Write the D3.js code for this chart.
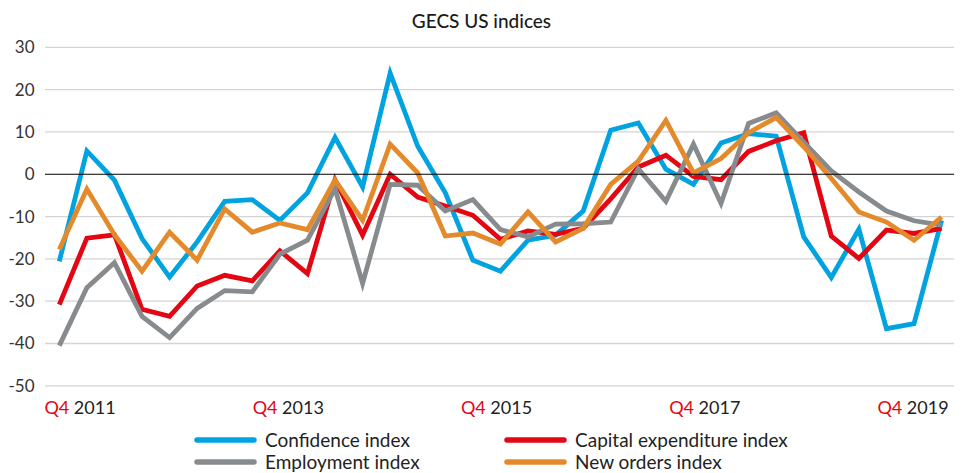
<!DOCTYPE html>
<html><head><meta charset="utf-8">
<script src="https://cdn.jsdelivr.net/npm/d3@7"></script>
<style>
html,body{margin:0;padding:0;background:#fff;}
svg{display:block;font-family:Lato,"Open Sans",sans-serif;}
</style></head>
<body>
<svg id="c" width="967" height="473"></svg>
<script>
const title = "GECS US indices";
const yTicks = [30, 20, 10, 0, -10, -20, -30, -40, -50];
const xTickQ = ["Q4", "Q4", "Q4", "Q4", "Q4"];
const xTickYears = ["2011", "2013", "2015", "2017", "2019"];
const seriesNames = ["Confidence index", "Capital expenditure index", "Employment index", "New orders index"];
const seriesColors = ["#00a3e0", "#e30613", "#888b8d", "#e38b2c"];
const confidence = [-20.6, 5.5, -1.4, -15.2, -24.3, -16.0, -6.4, -6.0, -10.9, -4.4, 8.7, -3.0, 23.9, 6.6, -4.4, -20.3, -22.9, -15.6, -14.4, -8.7, 10.4, 12.1, 1.2, -2.4, 7.4, 9.6, 9.0, -14.8, -24.4, -13.0, -36.5, -35.3, -10.9];
const capex = [-30.8, -15.1, -14.3, -31.9, -33.6, -26.4, -23.9, -25.2, -18.1, -23.5, -1.3, -14.4, 0.0, -5.4, -7.5, -9.7, -15.4, -13.4, -14.2, -12.8, -5.8, 1.7, 4.5, -0.5, -1.3, 5.4, 7.9, 9.8, -14.6, -19.9, -13.2, -14.0, -12.8];
const employment = [-40.5, -26.8, -20.9, -33.6, -38.6, -31.7, -27.5, -27.8, -18.9, -15.6, -3.4, -25.8, -2.4, -2.6, -8.7, -6.0, -13.1, -14.8, -11.8, -11.7, -11.3, 1.3, -6.4, 7.1, -6.9, 12.0, 14.5, 7.6, 0.8, -4.2, -8.7, -11.0, -12.0];
const newOrders = [-17.8, -3.5, -14.3, -22.9, -13.7, -20.3, -8.2, -13.7, -11.5, -13.1, -1.4, -10.9, 7.1, 0.3, -14.6, -13.9, -16.5, -8.9, -16.0, -12.8, -2.4, 3.1, 12.7, 0.3, 3.7, 9.8, 13.4, 6.5, -1.0, -8.9, -11.3, -15.6, -10.1];

const seriesData = [confidence, capex, employment, newOrders];
const svg = d3.select("#c");
const x = d3.scaleLinear().domain([0, confidence.length - 1]).range([59.3, 941.6]);
const y = d3.scaleLinear().domain([-50, 30]).range([385.8, 47.3]);
const gridX0 = 45, gridX1 = 954;

// title
svg.append("text").attr("x", 481.5).attr("y", 28).attr("text-anchor", "middle")
  .attr("font-size", 19).attr("font-weight", 500).attr("fill", "#1a1a1a").text(title);

// gridlines
svg.append("g").selectAll("line").data(yTicks.filter(d => d !== 0)).join("line")
  .attr("x1", gridX0).attr("x2", gridX1)
  .attr("y1", d => y(d)).attr("y2", d => y(d))
  .attr("stroke", "#d4d4d4").attr("stroke-width", 1.3);

// y labels
svg.append("g").selectAll("text").data(yTicks).join("text")
  .attr("x", 34.5).attr("y", d => y(d) + 6)
  .attr("text-anchor", "end").attr("font-size", 17).attr("fill", "#333")
  .text(d => d);

// lines
const line = d3.line().x((d, i) => x(i)).y(d => y(d));
svg.append("g").selectAll("path").data(seriesData).join("path")
  .attr("d", d => line(d)).attr("fill", "none")
  .attr("stroke", (d, i) => seriesColors[i]).attr("stroke-width", 4.8)
  .attr("stroke-linejoin", "miter").attr("stroke-miterlimit", 10);

// zero line
svg.append("line").attr("x1", gridX0).attr("x2", gridX1)
  .attr("y1", y(0)).attr("y2", y(0)).attr("stroke", "#000").attr("stroke-width", 1.2);

// x labels
const xl = d3.scalePoint().domain(xTickYears).range([80, 913]);
const xt = svg.append("g").selectAll("text").data(xTickYears).join("text")
  .attr("x", d => xl(d)).attr("y", 413.5).attr("text-anchor", "middle")
  .attr("font-size", 18).attr("fill", "#222");
xt.append("tspan").attr("fill", "#e30613").text((d, i) => xTickQ[i] + " ");
xt.append("tspan").text(d => d);

// legend
const legPos = [[197, 440], [507, 440], [197, 462], [507, 462]];
const lg = svg.append("g").selectAll("g").data(seriesNames).join("g")
  .attr("transform", (d, i) => `translate(${legPos[i][0]},${legPos[i][1]})`);
lg.append("line").attr("x1", 0).attr("x2", 57).attr("y1", 0).attr("y2", 0)
  .attr("stroke", (d, i) => seriesColors[i]).attr("stroke-width", 5.5).attr("stroke-linecap", "round");
lg.append("text").attr("x", 68).attr("y", 6.5).attr("font-size", 19).attr("fill", "#222").text(d => d);
</script>
</body></html>
